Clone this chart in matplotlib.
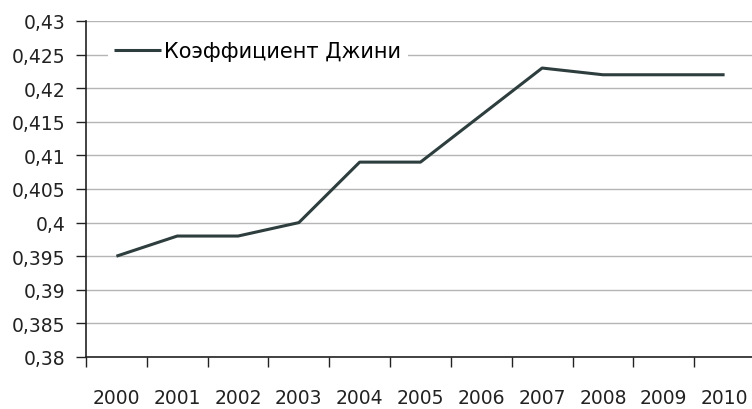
import matplotlib
matplotlib.use("Agg")
import matplotlib.pyplot as plt

# данные
years = ['2000', '2001', '2002', '2003', '2004', '2005', '2006', '2007', '2008', '2009', '2010']
gini = [0.395, 0.398, 0.398, 0.400, 0.409, 0.409, 0.416, 0.423, 0.422, 0.422, 0.422]
yticks = [0.38, 0.385, 0.39, 0.395, 0.40, 0.405, 0.41, 0.415, 0.42, 0.425, 0.43]
ylabels = ['0,38', '0,385', '0,39', '0,395', '0,4', '0,405', '0,41', '0,415', '0,42', '0,425', '0,43']

plt.rcParams['font.family'] = ['DejaVu Sans']
fig = plt.figure(figsize=(7.52, 4.10), dpi=100)
ax = fig.add_axes([86 / 752, 52 / 410, 669 / 752, 336 / 410])

x = list(range(len(years)))
ax.plot(x, gini, color='#2e3d3d', linewidth=2.2, label='Коэффициент Джини', solid_capstyle='butt')

ax.set_xlim(-0.5, len(years) - 0.5)
ax.set_ylim(0.38, 0.43)
ax.set_yticks(yticks)
ax.set_yticklabels(ylabels, fontsize=13.5, color='#222222')
ax.set_xticks([i - 0.5 for i in x])
ax.set_xticklabels([])
ax.set_xticks(x, minor=True)
ax.set_xticklabels(years, minor=True, fontsize=13.5, color='#222222')
ax.tick_params(axis='x', which='minor', length=0, pad=22)
ax.tick_params(axis='x', which='major', length=7, width=1, color='#222222', direction='out')
ax.tick_params(axis='y', length=7, width=1, color='#222222', pad=8)

ax.grid(axis='y', color='#b5b5b5', linewidth=1)
ax.set_axisbelow(True)
for s in ['top', 'right']:
    ax.spines[s].set_visible(False)
for s in ['left', 'bottom']:
    ax.spines[s].set_color('#222222')
    ax.spines[s].set_linewidth(1.2)

leg = ax.legend(loc='center left', bbox_to_anchor=(0.033, 0.911), frameon=True,
                fancybox=False, handlelength=2.25, handletextpad=0.15,
                borderpad=0.3, borderaxespad=0, prop={'size': 15})
leg.get_frame().set_facecolor('white')
leg.get_frame().set_edgecolor('none')
leg.get_frame().set_alpha(1)

fig.savefig('out.png', dpi=100)
